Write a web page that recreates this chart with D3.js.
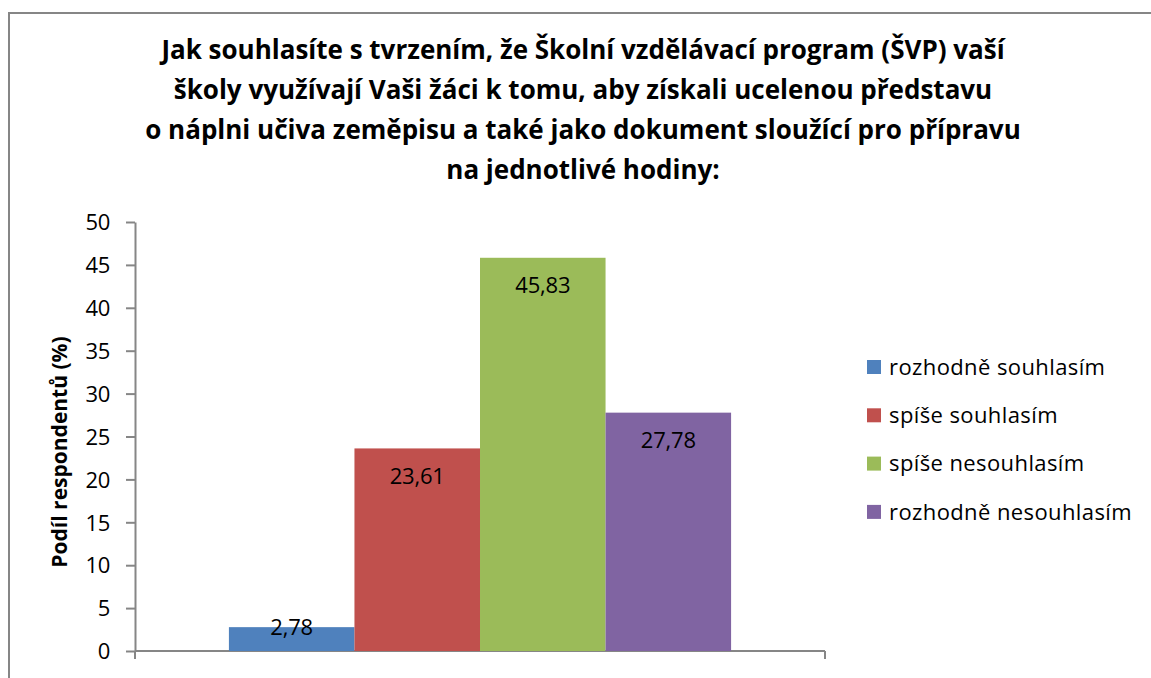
<!DOCTYPE html>
<html>
<head>
<meta charset="utf-8">
<script src="https://cdn.jsdelivr.net/npm/d3@7"></script>
<style>
  html, body { margin: 0; padding: 0; background: #fff; }
  svg { display: block; }
  text { font-family: "Open Sans", Lato, sans-serif; fill: #000; }
</style>
</head>
<body>
<svg id="chart" width="1151" height="678"></svg>
<script>
// Survey answers (share of respondents, %)
const categories = [""];
const seriesNames = ["rozhodně souhlasím", "spíše souhlasím", "spíše nesouhlasím", "rozhodně nesouhlasím"];
const seriesValues = [2.78, 23.61, 45.83, 27.78];
const seriesColors = ["#4F81BD", "#C0504D", "#9BBB59", "#8064A2"];
const yTicks = [0, 5, 10, 15, 20, 25, 30, 35, 40, 45, 50];
const titleLines = [
  "Jak souhlasíte s tvrzením, že Školní vzdělávací program (ŠVP) vaší",
  "školy využívají Vaši žáci k tomu, aby získali ucelenou představu",
  "o náplni učiva zeměpisu a také jako dokument sloužící pro přípravu",
  "na jednotlivé hodiny:"
];
const yAxisTitle = "Podíl respondentů (%)";

const svg = d3.select("#chart");
const plot = { left: 135, right: 825, top: 222, bottom: 651 };

// chart frame
svg.append("rect")
  .attr("x", 9).attr("y", 13)
  .attr("width", 1160).attr("height", 700)
  .attr("fill", "#fff").attr("stroke", "#868686").attr("stroke-width", 2);

// title
svg.append("g").selectAll("text").data(titleLines).join("text")
  .attr("x", 583)
  .attr("y", (d, i) => 59 + i * 40)
  .attr("text-anchor", "middle")
  .attr("font-size", 26)
  .attr("font-weight", "bold")
  .attr("letter-spacing", 0)
  .text(d => d);

const y = d3.scaleLinear().domain([0, 50]).range([plot.bottom, plot.top]);
const x0 = d3.scaleBand().domain(categories).range([plot.left, plot.right])
  .paddingInner(0).paddingOuter(0.187);
const x1 = d3.scaleBand().domain(seriesNames).range([0, x0.bandwidth()]).padding(0);

// y axis
const yAxis = d3.axisLeft(y).tickValues(yTicks).tickSize(9).tickSizeOuter(0)
  .tickFormat(d3.format("d"));
const gy = svg.append("g").attr("transform", `translate(${plot.left},0)`).call(yAxis);
gy.select(".domain").attr("stroke", "#868686").attr("stroke-width", 2);
gy.selectAll(".tick line").attr("stroke", "#868686").attr("stroke-width", 2);
gy.selectAll(".tick text")
  .attr("x", -25)
  .attr("dy", "0.35em")
  .attr("font-size", 22)
  .attr("font-family", "'Open Sans', sans-serif")
  .attr("letter-spacing", -0.3);

// category axis with edge ticks
const gx = svg.append("g");
gx.append("line")
  .attr("x1", plot.left).attr("x2", plot.right)
  .attr("y1", y(0)).attr("y2", y(0))
  .attr("stroke", "#868686").attr("stroke-width", 2);
gx.selectAll("line.edge").data([plot.left, plot.right]).join("line")
  .attr("class", "edge")
  .attr("x1", d => d).attr("x2", d => d)
  .attr("y1", y(0)).attr("y2", y(0) + 8)
  .attr("stroke", "#868686").attr("stroke-width", 2);

// bars
const data = seriesNames.map((name, i) => ({ cat: categories[0], name, value: seriesValues[i], color: seriesColors[i] }));
const bars = svg.append("g");
bars.selectAll("rect").data(data).join("rect")
  .attr("x", d => x0(d.cat) + x1(d.name))
  .attr("y", d => y(d.value))
  .attr("width", x1.bandwidth())
  .attr("height", d => y(0) - y(d.value))
  .attr("fill", d => d.color);

// value labels (inside end, kept above the axis for short bars)
const fmt = v => d3.format(".2f")(v).replace(".", ",");
bars.selectAll("text").data(data).join("text")
  .attr("x", d => x0(d.cat) + x1(d.name) + x1.bandwidth() / 2)
  .attr("y", d => Math.min(y(d.value) + 28, y(0) - 24))
  .attr("dy", "0.35em")
  .attr("text-anchor", "middle")
  .attr("font-size", 22)
  .attr("letter-spacing", -0.2)
  .text(d => fmt(d.value));

// y axis title
svg.append("text")
  .attr("transform", "translate(67,452) rotate(-90)")
  .attr("text-anchor", "middle")
  .attr("font-size", 21)
  .attr("font-weight", "bold")
  .attr("letter-spacing", 0)
  .text(yAxisTitle);

// legend
const legend = svg.append("g").selectAll("g").data(data).join("g")
  .attr("transform", (d, i) => `translate(867,${367 + i * 48.3})`);
legend.append("rect")
  .attr("x", 0).attr("y", -7)
  .attr("width", 14).attr("height", 14)
  .attr("fill", d => d.color);
legend.append("text")
  .attr("x", 22).attr("dy", "0.35em")
  .attr("font-size", 22)
  .attr("letter-spacing", 0.4)
  .text(d => d.name);
</script>
</body>
</html>
